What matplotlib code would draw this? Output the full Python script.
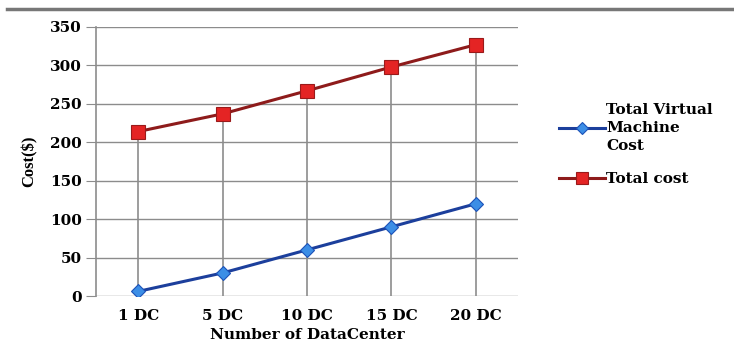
import matplotlib.pyplot as plt

categories = ['1 DC', '5 DC', '10 DC', '15 DC', '20 DC']
vm_cost = [6, 30, 60, 90, 120]
total_cost = [214, 237, 267, 298, 327]
yticks = [0, 50, 100, 150, 200, 250, 300, 350]

plt.rcParams['font.family'] = ['DejaVu Serif']

fig = plt.figure(figsize=(7.34, 3.6), dpi=100)
ax = fig.add_axes([96 / 734, 64 / 360, 422 / 734, 269 / 360])

x = [i + 0.5 for i in range(len(categories))]

# gridlines and drop lines
for t in yticks:
    ax.axhline(t, color='#8c8c8c', lw=1.0, zorder=1)
tops = [max(a, b) for a, b in zip(vm_cost, total_cost)]
ax.vlines(x, 0, tops, color='#8c8c8c', lw=1.2, zorder=1)

ax.plot(x, vm_cost, color='#1c3f9c', lw=2.2, marker='D', ms=7,
        mfc='#3c8ee6', mec='#1c52b8', mew=0.8, zorder=3,
        label='Total Virtual\nMachine\nCost')
ax.plot(x, total_cost, color='#8e1b1b', lw=2.2, marker='s', ms=10,
        mfc='#e42424', mec='#9a1a1a', mew=0.8, zorder=3,
        label='Total cost')

ax.set_xlim(0, len(categories))
ax.set_ylim(0, 350)
ax.set_xticks(x)
ax.set_xticklabels(categories, fontsize=11, fontweight='bold')
ax.set_yticks(yticks)
ax.set_yticklabels([str(t) for t in yticks], fontsize=11, fontweight='bold')
ax.tick_params(axis='y', length=7, color='#8c8c8c', pad=3)
ax.tick_params(axis='x', length=0, pad=9)

for s in ['top', 'right', 'bottom']:
    ax.spines[s].set_visible(False)
ax.spines['left'].set_color('#8c8c8c')
ax.spines['left'].set_linewidth(1.2)

ax.set_xlabel('Number of DataCenter', fontsize=11, fontweight='bold', labelpad=4)
ax.set_ylabel('Cost($)', fontsize=12, labelpad=9, family='Liberation Serif',
              fontweight='semibold')

leg = ax.legend(loc='upper left', bbox_to_anchor=(553 / 734, 263 / 360),
                bbox_transform=fig.transFigure, frameon=False,
                prop={'weight': 'bold', 'size': 11}, handlelength=3.0,
                handletextpad=0.1, labelspacing=1.25, borderaxespad=0)
for h in leg.legend_handles:
    h.set_markersize(6 if h.get_marker() == 'D' else 8)
for t in leg.get_texts():
    t.set_linespacing(1.35)

# rule across the top
fig.add_artist(plt.Line2D([7 / 734, 1], [1 - 9 / 360, 1 - 9 / 360],
                          color='#777777', lw=2.5))

fig.savefig('out.png', dpi=100)
